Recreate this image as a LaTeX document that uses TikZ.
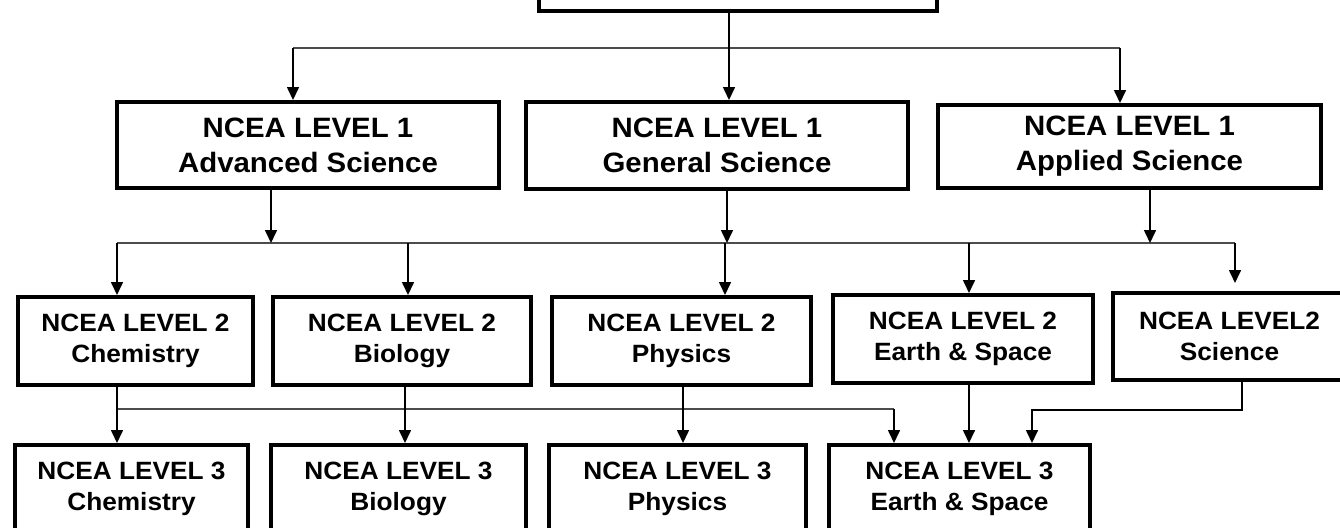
\documentclass[tikz,border=0pt]{standalone}
\usepackage{fontspec}
\setmainfont{Liberation Sans}[FakeStretch=1.05]
\usetikzlibrary{arrows.meta}
\tikzset{
  box/.style={draw, line width=2pt, inner sep=0pt, align=center, anchor=center},
  lone/.style={box, font=\bfseries\fontsize{14}{17.5}\selectfont},
  ltwo/.style={box, font=\bfseries\fontsize{12.5}{15.5}\selectfont},
  arr/.style={draw=black, line width=0.8pt, -{Triangle[width=6pt,length=6.5pt]}},
  bus/.style={draw=black!70, line width=1.1pt},
}
\begin{document}
\begin{tikzpicture}[x=0.5pt,y=-0.5pt]
\useasboundingbox (0,0) rectangle (1340,527);
\clip (0,0) rectangle (1340,527);
% top box (text outside the visible area)
\node[box, minimum width=199pt, minimum height=45pt] (top) at (738,-34) {};
% level 1
\node[lone, minimum width=191pt, minimum height=43pt] (adv) at (308,145) {NCEA LEVEL 1\\Advanced Science};
\node[lone, minimum width=191pt, minimum height=43.5pt] (gen) at (717,145.5) {NCEA LEVEL 1\\General Science};
\node[lone, minimum width=191.5pt, minimum height=41.5pt] (app) at (1129.5,146.5) {NCEA LEVEL 1\\Applied Science};
% level 2
\node[ltwo, minimum width=117.5pt, minimum height=44pt] (chem) at (135.5,341) {NCEA LEVEL 2\\Chemistry};
\node[ltwo, minimum width=129pt, minimum height=44pt] (bio) at (402,341) {NCEA LEVEL 2\\Biology};
\node[ltwo, minimum width=129.5pt, minimum height=44pt] (phys) at (681.5,341) {NCEA LEVEL 2\\Physics};
\node[ltwo, minimum width=130pt, minimum height=44pt] (earth) at (963,339) {NCEA LEVEL 2\\Earth \& Space};
\node[ltwo, minimum width=116.5pt, minimum height=43.5pt] (sci) at (1229.5,336.5) {NCEA LEVEL2\\Science};
% level 3
\node[ltwo, minimum width=116.5pt, minimum height=44pt] (chem3) at (131.5,489) {NCEA LEVEL 3\\Chemistry};
\node[ltwo, minimum width=127.5pt, minimum height=44pt] (bio3) at (398.5,489) {NCEA LEVEL 3\\Biology};
\node[ltwo, minimum width=128.5pt, minimum height=44pt] (phys3) at (677.5,489) {NCEA LEVEL 3\\Physics};
\node[ltwo, minimum width=130.5pt, minimum height=44pt] (earth3) at (959.5,489) {NCEA LEVEL 3\\Earth \& Space};
% bus 1
\coordinate (j0) at (729,48);
\coordinate (j1) at (293,48);
\coordinate (j2) at (1120,48);
\draw[bus] (j1) -- (j2);
\draw[arr] (top.south -| j0) -- (gen.north -| j0);
\draw[arr] (j1) -- (adv.north -| j1);
\draw[arr] (j2) -- (app.north -| j2);
% bus 2
\coordinate (k1) at (271,243);
\coordinate (k2) at (727,243);
\coordinate (k3) at (1150,243);
\coordinate (d1) at (117,243);
\coordinate (d2) at (408,243);
\coordinate (d3) at (725,243);
\coordinate (d4) at (969,243);
\coordinate (d5) at (1235,243);
\coordinate (sciin) at (1235,283);
\draw[bus] (d1) -- (d5);
\draw[arr] (adv.south -| k1) -- (k1);
\draw[arr] (gen.south -| k2) -- (k2);
\draw[arr] (app.south -| k3) -- (k3);
\draw[arr] (d1) -- (chem.north -| d1);
\draw[arr] (d2) -- (bio.north -| d2);
\draw[arr] (d3) -- (phys.north -| d3);
\draw[arr] (d4) -- (earth.north -| d4);
\draw[arr] (d5) -- (sciin);
% bus 3
\coordinate (e1) at (117,409);
\coordinate (e2) at (405,409);
\coordinate (e3) at (683,409);
\coordinate (e4) at (894,409);
\coordinate (e5) at (969,409);
\coordinate (f1) at (1242,410);
\coordinate (f2) at (1032,410);
\draw[bus] (e1) -- (e4);
\draw[arr] (chem.south -| e1) -- (chem3.north -| e1);
\draw[arr] (bio.south -| e2) -- (bio3.north -| e2);
\draw[arr] (phys.south -| e3) -- (phys3.north -| e3);
\draw[arr] (earth.south -| e5) -- (earth3.north -| e5);
\draw[arr] (e4) -- (earth3.north -| e4);
\draw[arr] (sci.south -| f1) -- (f1) -- (f2) -- (earth3.north -| f2);
\end{tikzpicture}
\end{document}
